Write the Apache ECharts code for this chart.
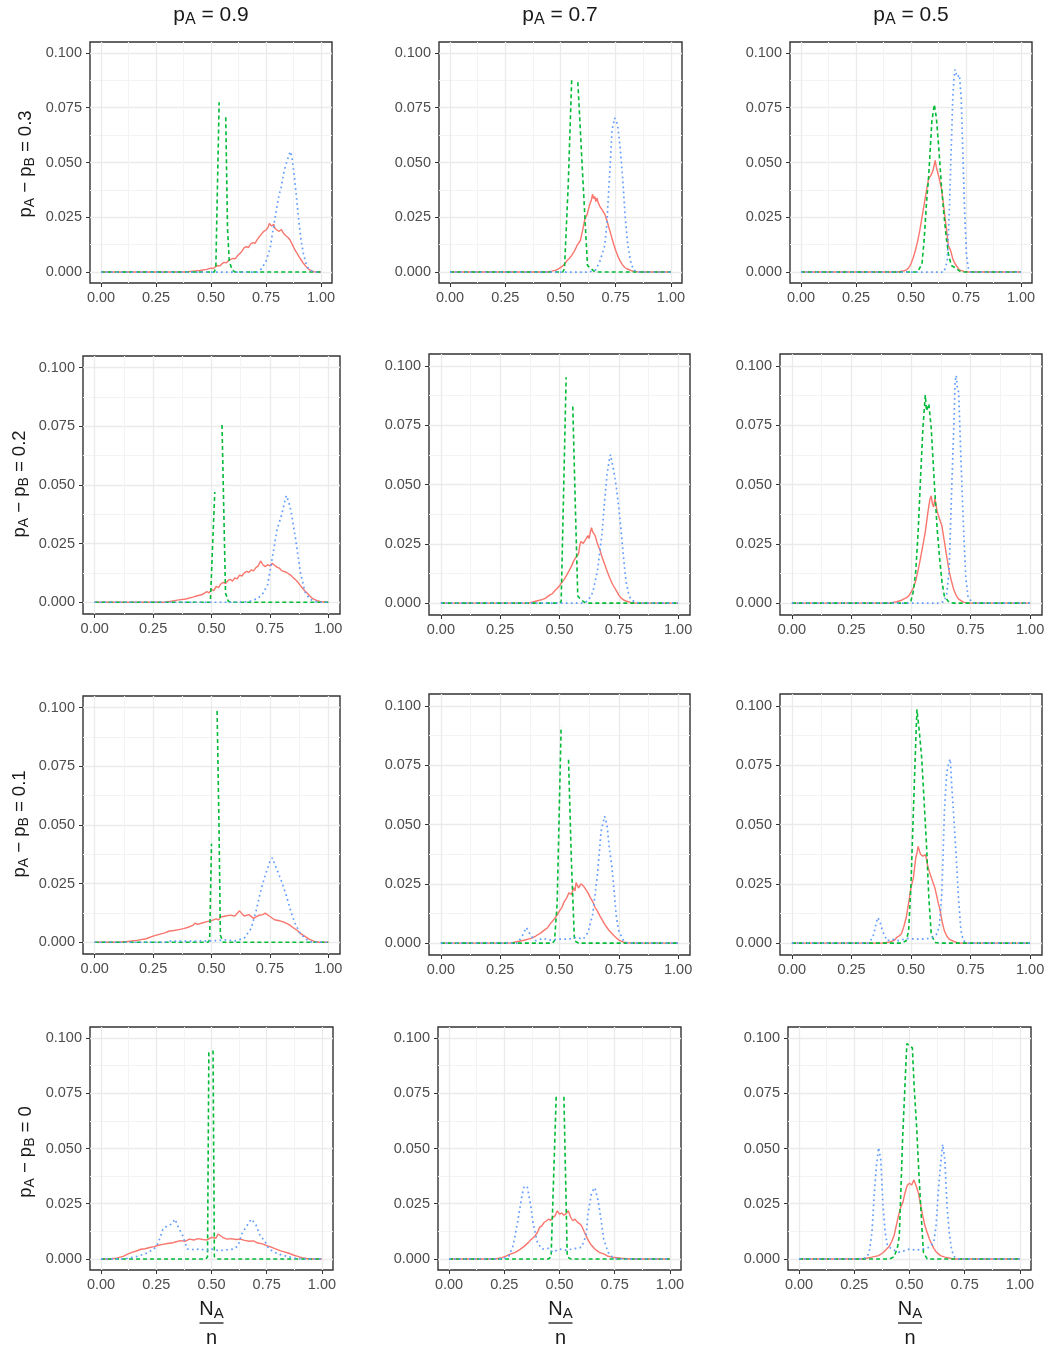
<!DOCTYPE html>
<html>
<head>
<meta charset="utf-8">
<script src="https://cdn.jsdelivr.net/npm/echarts@6/dist/echarts.min.js"></script>
<style>
html, body { margin: 0; padding: 0; background: #ffffff; }
#main { width: 1048px; height: 1348px; }
</style>
</head>
<body>
<div id="main"></div>
<script>
// facet labels
var pA = ['0.9', '0.7', '0.5'];
var diffs = ['0.3', '0.2', '0.1', '0'];
var xTicks = [0, 0.25, 0.5, 0.75, 1];
var xMinor = [0.125, 0.375, 0.625, 0.875];
var yTicks = [0, 0.025, 0.05, 0.075, 0.1];
var yMinor = [0.0125, 0.0375, 0.0625, 0.0875];

// ---- pA = 0.9, pA - pB = 0.3
var red_09_03 = [[0,0],[0.38,0],[0.42,0.0004],[0.45,0.0007],[0.48,0.0012],[0.50,0.0018],[0.51,0.0016],[0.52,0.0024],[0.53,0.0030],[0.54,0.0028],[0.55,0.0038],[0.56,0.0044],[0.57,0.0042],[0.58,0.0053],[0.59,0.0058],[0.60,0.0062],[0.61,0.0060],[0.62,0.0074],[0.63,0.0084],[0.64,0.0094],[0.65,0.0110],[0.66,0.0116],[0.67,0.0112],[0.68,0.0128],[0.69,0.0134],[0.70,0.0131],[0.71,0.0148],[0.72,0.0162],[0.73,0.0174],[0.74,0.0186],[0.75,0.0192],[0.76,0.0205],[0.765,0.0222],[0.775,0.0210],[0.785,0.0218],[0.79,0.0200],[0.80,0.0192],[0.81,0.0186],[0.82,0.0194],[0.83,0.0176],[0.84,0.0166],[0.85,0.0158],[0.86,0.0145],[0.87,0.0125],[0.88,0.0104],[0.89,0.0088],[0.90,0.0070],[0.91,0.0055],[0.92,0.0040],[0.93,0.0027],[0.94,0.0016],[0.95,0.0009],[0.96,0.0004],[0.97,0.0001],[0.98,0],[1,0]];
var green_09_03 = [[0,0],[0.515,0],[0.522,0.0023],[0.537,0.0775],[0.55,'-'],[0.567,0.0707],[0.575,0.020],[0.583,0.005],[0.596,0.001],[0.61,0],[1,0]];
var blue_09_03 = [[0,0],[0.71,0],[0.73,0.0015],[0.75,0.0050],[0.76,0.0080],[0.77,0.0115],[0.78,0.0180],[0.79,0.0240],[0.80,0.0300],[0.81,0.0355],[0.82,0.0390],[0.83,0.0450],[0.84,0.0490],[0.85,0.0520],[0.86,0.0550],[0.865,0.0535],[0.87,0.0510],[0.88,0.0425],[0.89,0.0325],[0.90,0.0225],[0.91,0.0140],[0.92,0.0085],[0.93,0.0045],[0.94,0.0020],[0.95,0.0012],[0.96,0.0004],[0.98,0],[1,0]];

// ---- pA = 0.7, pA - pB = 0.3
var red_07_03 = [[0,0],[0.44,0],[0.46,0.0004],[0.48,0.0009],[0.50,0.0020],[0.51,0.0028],[0.52,0.0038],[0.53,0.0053],[0.54,0.0062],[0.55,0.0075],[0.56,0.0091],[0.57,0.0110],[0.575,0.0122],[0.59,0.0144],[0.60,0.0190],[0.61,0.0240],[0.62,0.0262],[0.63,0.0300],[0.64,0.0330],[0.645,0.0355],[0.65,0.0335],[0.655,0.0345],[0.66,0.0322],[0.665,0.0338],[0.67,0.0318],[0.68,0.0296],[0.69,0.0282],[0.70,0.0266],[0.71,0.0235],[0.72,0.0200],[0.73,0.0165],[0.74,0.0129],[0.75,0.0098],[0.76,0.0072],[0.77,0.0050],[0.78,0.0034],[0.79,0.0022],[0.80,0.0015],[0.82,0.0006],[0.84,0.0002],[0.86,0],[1,0]];
var green_07_03 = [[0,0],[0.51,0],[0.518,0.0015],[0.535,0.040],[0.551,0.0889],[0.565,'-'],[0.5785,0.0866],[0.60,0.045],[0.622,0.003],[0.65,0.0005],[0.66,0],[1,0]];
var blue_07_03 = [[0,0],[0.63,0],[0.66,0.0010],[0.68,0.0053],[0.70,0.0120],[0.71,0.0220],[0.72,0.0400],[0.725,0.0490],[0.733,0.0646],[0.745,0.0704],[0.752,0.0695],[0.758,0.0676],[0.77,0.0570],[0.782,0.0420],[0.793,0.0250],[0.804,0.0129],[0.816,0.0053],[0.83,0.0010],[0.85,0],[1,0]];

// ---- pA = 0.5, pA - pB = 0.3
var red_05_03 = [[0,0],[0.44,0],[0.47,0.0006],[0.48,0.0010],[0.49,0.0020],[0.50,0.0038],[0.51,0.0065],[0.52,0.0099],[0.53,0.0140],[0.54,0.0190],[0.55,0.0250],[0.56,0.0310],[0.57,0.0370],[0.58,0.0425],[0.59,0.0440],[0.60,0.0463],[0.61,0.0510],[0.615,0.0480],[0.62,0.0460],[0.63,0.0420],[0.64,0.0370],[0.65,0.0290],[0.66,0.0205],[0.67,0.0120],[0.68,0.0099],[0.69,0.0060],[0.70,0.0038],[0.72,0.0010],[0.74,0.0003],[0.76,0],[1,0]];
var green_05_03 = [[0,0],[0.53,0],[0.55,0.0038],[0.56,0.0150],[0.57,0.0310],[0.58,0.0433],[0.595,0.0690],[0.606,0.0765],[0.615,0.0707],[0.626,0.0570],[0.638,0.0400],[0.648,0.0280],[0.66,0.0160],[0.67,0.0084],[0.683,0.0030],[0.70,0.0020],[0.72,0.0005],[0.74,0],[1,0]];
var blue_05_03 = [[0,0],[0.65,0],[0.665,0.0050],[0.675,0.0300],[0.683,0.0570],[0.69,0.0800],[0.695,0.0880],[0.70,0.0925],[0.71,0.0890],[0.72,0.0900],[0.728,0.0800],[0.734,0.0600],[0.744,0.0270],[0.752,0.0080],[0.76,0.0020],[0.77,0],[1,0]];

// ---- pA = 0.9, pA - pB = 0.2
var red_09_02 = [[0,0],[0.30,0],[0.33,0.0005],[0.36,0.0010],[0.39,0.0014],[0.42,0.0022],[0.44,0.0028],[0.46,0.0033],[0.48,0.0045],[0.49,0.0040],[0.50,0.0055],[0.51,0.0050],[0.52,0.0068],[0.53,0.0062],[0.54,0.0078],[0.55,0.0085],[0.56,0.0080],[0.57,0.0092],[0.58,0.0098],[0.59,0.0090],[0.60,0.0104],[0.61,0.0100],[0.62,0.0116],[0.63,0.0112],[0.64,0.0125],[0.65,0.0132],[0.66,0.0128],[0.67,0.0138],[0.68,0.0134],[0.69,0.0148],[0.70,0.0155],[0.71,0.0176],[0.72,0.0160],[0.73,0.0152],[0.74,0.0160],[0.75,0.0155],[0.76,0.0166],[0.77,0.0158],[0.78,0.0150],[0.79,0.0146],[0.80,0.0135],[0.82,0.0128],[0.84,0.0115],[0.85,0.0104],[0.86,0.0096],[0.87,0.0085],[0.88,0.0072],[0.89,0.0060],[0.90,0.0048],[0.91,0.0038],[0.92,0.0028],[0.93,0.0018],[0.94,0.0012],[0.95,0.0008],[0.97,0.0002],[0.99,0],[1,0]];
var green_09_02 = [[0,0],[0.495,0],[0.503,0.0005],[0.514,0.0470],[0.53,'-'],[0.545,0.0756],[0.56,0.0040],[0.572,0.0004],[0.585,0],[1,0]];
var blue_09_02 = [[0,0],[0.62,0],[0.66,0.0003],[0.70,0.0017],[0.72,0.0038],[0.74,0.0074],[0.76,0.0187],[0.78,0.0308],[0.80,0.0372],[0.81,0.0415],[0.82,0.0455],[0.83,0.0430],[0.84,0.0390],[0.86,0.0270],[0.88,0.0130],[0.90,0.0045],[0.92,0.0014],[0.94,0.0004],[0.96,0],[1,0]];

// ---- pA = 0.7, pA - pB = 0.2
var red_07_02 = [[0,0],[0.37,0],[0.40,0.0008],[0.42,0.0013],[0.44,0.0020],[0.46,0.0035],[0.47,0.0040],[0.48,0.0052],[0.49,0.0062],[0.50,0.0073],[0.51,0.0088],[0.52,0.0100],[0.53,0.0118],[0.54,0.0136],[0.55,0.0155],[0.56,0.0178],[0.57,0.0195],[0.58,0.0206],[0.585,0.0240],[0.59,0.0260],[0.60,0.0252],[0.61,0.0268],[0.62,0.0285],[0.625,0.0272],[0.63,0.0300],[0.635,0.0318],[0.64,0.0300],[0.65,0.0285],[0.66,0.0250],[0.67,0.0225],[0.68,0.0192],[0.69,0.0165],[0.70,0.0136],[0.71,0.0110],[0.72,0.0087],[0.73,0.0068],[0.74,0.0052],[0.75,0.0034],[0.76,0.0021],[0.77,0.0014],[0.78,0.0009],[0.80,0.0003],[0.82,0],[1,0]];
var green_07_02 = [[0,0],[0.495,0],[0.507,0.0005],[0.528,0.0952],[0.54,'-'],[0.556,0.0829],[0.567,0.0400],[0.577,0.0030],[0.59,0.0015],[0.61,0],[1,0]];
var blue_07_02 = [[0,0],[0.60,0],[0.62,0.0010],[0.64,0.0045],[0.66,0.0136],[0.68,0.0300],[0.69,0.0430],[0.70,0.0540],[0.71,0.0605],[0.715,0.0626],[0.72,0.0600],[0.73,0.0550],[0.74,0.0486],[0.75,0.0400],[0.76,0.0300],[0.77,0.0190],[0.78,0.0094],[0.79,0.0045],[0.80,0.0017],[0.82,0.0003],[0.84,0],[1,0]];

// ---- pA = 0.5, pA - pB = 0.2
var red_05_02 = [[0,0],[0.41,0],[0.44,0.0006],[0.46,0.0012],[0.47,0.0018],[0.48,0.0022],[0.49,0.0030],[0.50,0.0045],[0.51,0.0065],[0.52,0.0094],[0.53,0.0140],[0.54,0.0190],[0.55,0.0245],[0.56,0.0300],[0.57,0.0375],[0.575,0.0410],[0.58,0.0440],[0.585,0.0452],[0.59,0.0418],[0.595,0.0405],[0.60,0.0440],[0.605,0.0415],[0.61,0.0385],[0.62,0.0355],[0.625,0.0360],[0.63,0.0325],[0.64,0.0260],[0.65,0.0195],[0.66,0.0136],[0.67,0.0092],[0.68,0.0055],[0.69,0.0032],[0.70,0.0017],[0.72,0.0004],[0.74,0],[1,0]];
var green_05_02 = [[0,0],[0.48,0],[0.50,0.0010],[0.51,0.0050],[0.52,0.0136],[0.53,0.0300],[0.54,0.0527],[0.55,0.0737],[0.56,0.0877],[0.565,0.0810],[0.575,0.0840],[0.585,0.0737],[0.60,0.0470],[0.61,0.0310],[0.62,0.0190],[0.63,0.0090],[0.64,0.0030],[0.66,0.0003],[0.68,0],[1,0]];
var blue_05_02 = [[0,0],[0.62,0],[0.64,0.0007],[0.65,0.0040],[0.66,0.0136],[0.67,0.0457],[0.68,0.0750],[0.685,0.0930],[0.69,0.0960],[0.695,0.0900],[0.70,0.0890],[0.71,0.0600],[0.72,0.0330],[0.73,0.0108],[0.74,0.0024],[0.76,0],[1,0]];

// ---- pA = 0.9, pA - pB = 0.1
var red_09_01 = [[0,0],[0.10,0],[0.14,0.0003],[0.18,0.0008],[0.22,0.0015],[0.25,0.0026],[0.28,0.0035],[0.30,0.0040],[0.32,0.0048],[0.34,0.0050],[0.36,0.0054],[0.38,0.0058],[0.40,0.0064],[0.42,0.0072],[0.43,0.0082],[0.44,0.0076],[0.46,0.0082],[0.48,0.0088],[0.50,0.0092],[0.52,0.0100],[0.53,0.0095],[0.54,0.0108],[0.56,0.0112],[0.58,0.0116],[0.60,0.0112],[0.62,0.0134],[0.63,0.0122],[0.64,0.0112],[0.66,0.0118],[0.68,0.0102],[0.70,0.0114],[0.72,0.0118],[0.73,0.0124],[0.75,0.0110],[0.77,0.0096],[0.79,0.0092],[0.81,0.0086],[0.83,0.0076],[0.85,0.0062],[0.87,0.0048],[0.88,0.0038],[0.90,0.0025],[0.92,0.0012],[0.94,0.0004],[0.96,0],[1,0]];
var green_09_01 = [[0,0],[0.485,0],[0.492,0.0010],[0.50,0.0420],[0.512,'-'],[0.524,0.0986],[0.532,0.0500],[0.538,0.0030],[0.55,0],[1,0]];
var blue_09_01 = [[0,0],[0.30,0],[0.32,0.0005],[0.40,0.0005],[0.50,0.0006],[0.56,0.0010],[0.60,0.0006],[0.64,0.0017],[0.67,0.0060],[0.69,0.0130],[0.71,0.0216],[0.73,0.0287],[0.75,0.0344],[0.76,0.0360],[0.78,0.0310],[0.80,0.0259],[0.82,0.0200],[0.84,0.0130],[0.86,0.0074],[0.88,0.0038],[0.90,0.0017],[0.92,0.0003],[0.94,0],[1,0]];

// ---- pA = 0.7, pA - pB = 0.1
var red_07_01 = [[0,0],[0.29,0],[0.32,0.0006],[0.35,0.0012],[0.38,0.0020],[0.40,0.0030],[0.42,0.0042],[0.44,0.0058],[0.45,0.0065],[0.46,0.0080],[0.47,0.0092],[0.48,0.0105],[0.49,0.0118],[0.50,0.0136],[0.51,0.0150],[0.52,0.0175],[0.53,0.0190],[0.54,0.0212],[0.55,0.0205],[0.56,0.0234],[0.565,0.0220],[0.57,0.0255],[0.58,0.0232],[0.59,0.0250],[0.60,0.0242],[0.61,0.0228],[0.62,0.0212],[0.63,0.0192],[0.64,0.0175],[0.65,0.0150],[0.66,0.0135],[0.67,0.0115],[0.68,0.0098],[0.69,0.0080],[0.70,0.0066],[0.71,0.0052],[0.72,0.0042],[0.73,0.0031],[0.74,0.0022],[0.75,0.0013],[0.77,0.0004],[0.80,0],[1,0]];
var green_07_01 = [[0,0],[0.47,0],[0.479,0.0010],[0.49,0.0165],[0.507,0.0913],[0.522,'-'],[0.538,0.0773],[0.55,0.0350],[0.563,0.0010],[0.58,0],[1,0]];
var blue_07_01 = [[0,0],[0.32,0],[0.34,0.0024],[0.36,0.0066],[0.38,0.0030],[0.40,0.0010],[0.43,0.0020],[0.46,0.0013],[0.50,0.0017],[0.54,0.0017],[0.57,0.0024],[0.60,0.0017],[0.62,0.0045],[0.64,0.0122],[0.66,0.0290],[0.675,0.0470],[0.69,0.0535],[0.70,0.0500],[0.71,0.0400],[0.72,0.0330],[0.73,0.0220],[0.74,0.0108],[0.75,0.0052],[0.77,0.0010],[0.79,0],[1,0]];

// ---- pA = 0.5, pA - pB = 0.1
var red_05_01 = [[0,0],[0.38,0],[0.41,0.0005],[0.43,0.0012],[0.44,0.0024],[0.45,0.0030],[0.46,0.0040],[0.47,0.0070],[0.48,0.0108],[0.49,0.0170],[0.50,0.0234],[0.51,0.0275],[0.52,0.0360],[0.525,0.0380],[0.53,0.0408],[0.535,0.0390],[0.54,0.0375],[0.55,0.0366],[0.56,0.0373],[0.565,0.0355],[0.57,0.0325],[0.58,0.0292],[0.59,0.0262],[0.60,0.0234],[0.61,0.0190],[0.615,0.0165],[0.62,0.0150],[0.63,0.0094],[0.64,0.0052],[0.65,0.0030],[0.66,0.0017],[0.68,0.0007],[0.70,0],[1,0]];
var green_05_01 = [[0,0],[0.46,0],[0.48,0.0010],[0.49,0.0052],[0.50,0.0248],[0.51,0.0555],[0.52,0.0850],[0.525,0.0985],[0.535,0.0890],[0.545,0.0780],[0.555,0.0600],[0.565,0.0415],[0.575,0.0190],[0.585,0.0038],[0.60,0.0003],[0.62,0],[1,0]];
var blue_05_01 = [[0,0],[0.32,0],[0.34,0.0024],[0.36,0.0108],[0.37,0.0090],[0.38,0.0052],[0.40,0.0010],[0.42,0.0017],[0.45,0.0010],[0.48,0.0020],[0.52,0.0017],[0.56,0.0017],[0.59,0.0024],[0.61,0.0040],[0.62,0.0080],[0.63,0.0220],[0.64,0.0555],[0.65,0.0720],[0.66,0.0765],[0.665,0.0776],[0.67,0.0680],[0.68,0.0527],[0.69,0.0360],[0.70,0.0178],[0.71,0.0052],[0.72,0.0010],[0.74,0],[1,0]];

// ---- pA = 0.9, pA - pB = 0
var red_09_00 = [[0,0],[0.04,0],[0.07,0.0004],[0.10,0.0012],[0.12,0.0022],[0.14,0.0030],[0.16,0.0036],[0.18,0.0044],[0.20,0.0046],[0.22,0.0052],[0.24,0.0056],[0.26,0.0062],[0.28,0.0066],[0.30,0.0070],[0.32,0.0072],[0.34,0.0078],[0.36,0.0083],[0.38,0.0080],[0.40,0.0090],[0.42,0.0086],[0.44,0.0092],[0.46,0.0088],[0.48,0.0086],[0.50,0.0098],[0.52,0.0094],[0.53,0.0113],[0.55,0.0098],[0.57,0.0090],[0.59,0.0092],[0.61,0.0088],[0.63,0.0090],[0.65,0.0084],[0.67,0.0080],[0.69,0.0082],[0.71,0.0072],[0.73,0.0068],[0.75,0.0060],[0.77,0.0054],[0.79,0.0046],[0.81,0.0038],[0.83,0.0032],[0.85,0.0026],[0.87,0.0018],[0.89,0.0012],[0.91,0.0006],[0.93,0.0002],[0.95,0],[1,0]];
var green_09_00 = [[0,0],[0.475,0],[0.482,0.0010],[0.488,0.0944],[0.497,'-'],[0.507,0.0944],[0.513,0.0010],[0.525,0],[1,0]];
var blue_09_00 = [[0,0],[0.10,0],[0.15,0.0008],[0.20,0.0023],[0.24,0.0045],[0.26,0.0075],[0.28,0.0135],[0.30,0.0150],[0.32,0.0158],[0.335,0.0180],[0.35,0.0143],[0.37,0.0105],[0.39,0.0045],[0.42,0.0042],[0.45,0.0045],[0.48,0.0038],[0.50,0.0045],[0.53,0.0038],[0.56,0.0040],[0.60,0.0045],[0.62,0.0060],[0.64,0.0120],[0.66,0.0150],[0.68,0.0180],[0.70,0.0158],[0.72,0.0105],[0.74,0.0083],[0.76,0.0045],[0.80,0.0023],[0.84,0.0012],[0.88,0.0003],[0.92,0],[1,0]];

// ---- pA = 0.7, pA - pB = 0
var red_07_00 = [[0,0],[0.21,0],[0.24,0.0006],[0.26,0.0014],[0.28,0.0023],[0.30,0.0030],[0.32,0.0042],[0.34,0.0057],[0.36,0.0075],[0.37,0.0087],[0.38,0.0095],[0.39,0.0105],[0.40,0.0120],[0.41,0.0143],[0.42,0.0150],[0.43,0.0165],[0.44,0.0172],[0.45,0.0180],[0.46,0.0175],[0.47,0.0188],[0.48,0.0195],[0.49,0.0218],[0.50,0.0203],[0.51,0.0208],[0.52,0.0198],[0.53,0.0205],[0.54,0.0218],[0.55,0.0190],[0.56,0.0173],[0.57,0.0180],[0.58,0.0168],[0.59,0.0160],[0.60,0.0150],[0.61,0.0128],[0.62,0.0105],[0.63,0.0085],[0.64,0.0068],[0.66,0.0045],[0.68,0.0030],[0.70,0.0023],[0.72,0.0012],[0.74,0.0008],[0.78,0.0003],[0.82,0],[1,0]];
var green_07_00 = [[0,0],[0.45,0],[0.462,0.0010],[0.485,0.0734],[0.502,'-'],[0.52,0.0734],[0.535,0.0010],[0.55,0],[1,0]];
var blue_07_00 = [[0,0],[0.24,0],[0.27,0.0012],[0.29,0.0060],[0.31,0.0165],[0.33,0.0286],[0.34,0.0330],[0.355,0.0323],[0.37,0.0240],[0.38,0.0165],[0.40,0.0075],[0.42,0.0045],[0.45,0.0048],[0.47,0.0030],[0.50,0.0045],[0.53,0.0040],[0.56,0.0045],[0.60,0.0053],[0.62,0.0105],[0.63,0.0210],[0.645,0.0300],[0.66,0.0323],[0.675,0.0263],[0.69,0.0165],[0.70,0.0090],[0.72,0.0030],[0.74,0.0008],[0.76,0],[1,0]];

// ---- pA = 0.5, pA - pB = 0
var red_05_00 = [[0,0],[0.29,0],[0.33,0.0008],[0.36,0.0015],[0.38,0.0028],[0.39,0.0038],[0.40,0.0048],[0.41,0.0060],[0.42,0.0080],[0.43,0.0105],[0.44,0.0150],[0.45,0.0195],[0.46,0.0233],[0.47,0.0256],[0.48,0.0300],[0.49,0.0334],[0.50,0.0343],[0.51,0.0335],[0.52,0.0358],[0.53,0.0331],[0.54,0.0300],[0.55,0.0248],[0.56,0.0195],[0.57,0.0150],[0.58,0.0120],[0.59,0.0090],[0.60,0.0068],[0.61,0.0048],[0.62,0.0033],[0.64,0.0015],[0.66,0.0008],[0.70,0],[1,0]];
var green_05_00 = [[0,0],[0.41,0],[0.43,0.0010],[0.445,0.0050],[0.454,0.0105],[0.469,0.0549],[0.479,0.0774],[0.488,0.0975],[0.513,0.0955],[0.521,0.0782],[0.533,0.0586],[0.543,0.0376],[0.554,0.0180],[0.563,0.0030],[0.58,0],[1,0]];
var blue_05_00 = [[0,0],[0.29,0],[0.31,0.0012],[0.32,0.0045],[0.33,0.0120],[0.34,0.0286],[0.35,0.0420],[0.36,0.0504],[0.37,0.0450],[0.38,0.0240],[0.39,0.0120],[0.40,0.0060],[0.42,0.0045],[0.45,0.0030],[0.48,0.0038],[0.50,0.0045],[0.53,0.0040],[0.56,0.0045],[0.59,0.0053],[0.61,0.0075],[0.62,0.0150],[0.63,0.0300],[0.64,0.0420],[0.65,0.0519],[0.66,0.0450],[0.67,0.0240],[0.68,0.0120],[0.69,0.0045],[0.70,0.0012],[0.72,0],[1,0]];

// panels, row by row (pA - pB = 0.3, 0.2, 0.1, 0), columns pA = 0.9, 0.7, 0.5
var panels = [
  [red_09_03, green_09_03, blue_09_03], [red_07_03, green_07_03, blue_07_03], [red_05_03, green_05_03, blue_05_03],
  [red_09_02, green_09_02, blue_09_02], [red_07_02, green_07_02, blue_07_02], [red_05_02, green_05_02, blue_05_02],
  [red_09_01, green_09_01, blue_09_01], [red_07_01, green_07_01, blue_07_01], [red_05_01, green_05_01, blue_05_01],
  [red_09_00, green_09_00, blue_09_00], [red_07_00, green_07_00, blue_07_00], [red_05_00, green_05_00, blue_05_00]
];

// panel frames in px: left, top, width, height
var boxes = [
  [90, 42, 242, 241], [439, 42, 243, 241], [790, 42, 242, 241],
  [83, 356, 257, 258], [429, 354, 261, 261], [780, 354, 262, 261],
  [83, 696, 257, 258], [429, 694, 261, 261], [780, 694, 262, 261],
  [90, 1027, 243, 243], [438, 1027, 243, 243], [788, 1027, 243, 243]
];

var FONT = '"Liberation Sans", Arial, Helvetica, sans-serif';
var colors = ['#F8766D', '#00BA38', '#619CFF'];
var styles = [
  { width: 1.4, type: 'solid' },
  { width: 1.6, type: [4, 3] },
  { width: 1.7, type: [1.7, 3.3] }
];

var grid = [], xAxis = [], yAxis = [], series = [];

panels.forEach(function (curves, i) {
  var b = boxes[i];
  grid.push({
    left: b[0], top: b[1], width: b[2], height: b[3],
    show: true, borderColor: '#333333', borderWidth: 1.4,
    backgroundColor: '#ffffff', containLabel: false, outerBoundsMode: 'none'
  });
  // main axes: minor grid lines + labels; data drawn on these
  xAxis.push({
    type: 'value', gridIndex: i, position: 'bottom', min: -0.05, max: 1.05,
    axisLine: { show: false, onZero: false },
    axisTick: { show: false, customValues: xMinor },
    axisLabel: { customValues: xTicks, formatter: function (v) { return v.toFixed(2); },
      color: '#4D4D4D', fontSize: 14.5, fontFamily: FONT, margin: 7 },
    splitLine: { show: true, lineStyle: { color: '#F3F3F3', width: 1 } }
  });
  // tick axes: major grid lines + ticks
  xAxis.push({
    type: 'value', gridIndex: i, position: 'bottom', min: -0.05, max: 1.05,
    axisLine: { show: false, onZero: false },
    axisTick: { show: true, customValues: xTicks, length: 4, lineStyle: { color: '#333333', width: 1 } },
    axisLabel: { show: false },
    splitLine: { show: true, lineStyle: { color: '#EBEBEB', width: 1.3 } }
  });
  yAxis.push({
    type: 'value', gridIndex: i, position: 'left', min: -0.005, max: 0.105,
    axisLine: { show: false, onZero: false },
    axisTick: { show: false, customValues: yMinor },
    axisLabel: { customValues: yTicks, formatter: function (v) { return v.toFixed(3); },
      color: '#4D4D4D', fontSize: 14.5, fontFamily: FONT, margin: 8 },
    splitLine: { show: true, lineStyle: { color: '#F3F3F3', width: 1 } }
  });
  yAxis.push({
    type: 'value', gridIndex: i, position: 'left', min: -0.005, max: 0.105,
    axisLine: { show: false, onZero: false },
    axisTick: { show: true, customValues: yTicks, length: 4, lineStyle: { color: '#333333', width: 1 } },
    axisLabel: { show: false },
    splitLine: { show: true, lineStyle: { color: '#EBEBEB', width: 1.3 } }
  });
  curves.forEach(function (data, k) {
    series.push({
      type: 'line', xAxisIndex: 2 * i, yAxisIndex: 2 * i,
      data: data, showSymbol: false, symbol: 'none', silent: true,
      connectNulls: false, z: 3 + k,
      lineStyle: { color: colors[k], width: styles[k].width, type: styles[k].type }
    });
  });
});

function richStyles(size) {
  var sub = Math.round(size * 0.75);
  return {
    m: { fontSize: size, lineHeight: size + 4, fontFamily: FONT, fill: '#1A1A1A', verticalAlign: 'middle' },
    s: { fontSize: sub, lineHeight: sub, fontFamily: FONT, fill: '#1A1A1A', verticalAlign: 'bottom' }
  };
}

var graphic = [];
// column strips
var colCenters = [211, 560, 911];
pA.forEach(function (p, c) {
  graphic.push({
    type: 'text', x: colCenters[c], y: 15,
    style: { text: '{m|p}{s|A}{m| = ' + p + '}', rich: richStyles(21), align: 'center', verticalAlign: 'middle' }
  });
});
// row strips (rotated, on the left)
var rowX = [26, 20, 20, 26];
var rowY = [164, 484, 824, 1152];
diffs.forEach(function (d, r) {
  graphic.push({
    type: 'text', x: rowX[r], y: rowY[r], rotation: Math.PI / 2,
    style: { text: '{m|p}{s|A}{m| \u2212 p}{s|B}{m| = ' + d + '}', rich: richStyles(18.5), align: 'center', verticalAlign: 'middle' }
  });
});
// x-axis titles: N_A / n
var fracCenters = [211.5, 560.5, 910];
fracCenters.forEach(function (cx) {
  graphic.push({
    type: 'text', x: cx, y: 1309,
    style: { text: '{m|N}{s|A}', rich: richStyles(20), align: 'center', verticalAlign: 'middle' }
  });
  graphic.push({
    type: 'line', shape: { x1: cx - 12, y1: 1323, x2: cx + 12, y2: 1323 },
    style: { stroke: '#1A1A1A', lineWidth: 1.3 }
  });
  graphic.push({
    type: 'text', x: cx, y: 1338,
    style: { text: 'n', fontSize: 20, fontFamily: FONT, fill: '#1A1A1A', align: 'center', verticalAlign: 'middle' }
  });
});

var myChart = echarts.init(document.getElementById('main'), null, { renderer: 'canvas' });
myChart.setOption({
  animation: false,
  backgroundColor: '#ffffff',
  grid: grid,
  xAxis: xAxis,
  yAxis: yAxis,
  series: series,
  graphic: graphic
});
</script>
</body>
</html>
